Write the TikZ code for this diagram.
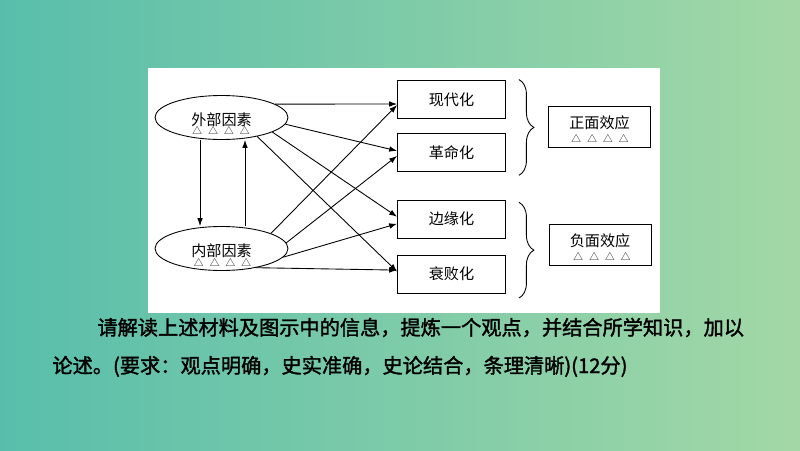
\documentclass[tikz,border=0pt]{standalone}
\usepackage{fontspec}
\setmainfont{Noto Sans CJK SC}
\newfontfamily\notefont[FakeBold=1.6]{Noto Sans CJK SC}
\usetikzlibrary{arrows.meta,positioning,shapes.geometric,decorations.pathreplacing}
\definecolor{bgleft}{RGB}{88,190,171}
\definecolor{bgright}{RGB}{163,216,166}
\newcommand{\tripoints}{△\hspace{3.5pt}△\hspace{3.5pt}△\hspace{3.5pt}△}
\tikzset{
  factor/.style={ellipse, draw, minimum width=2.66cm, minimum height=0.88cm, inner sep=0pt,
                 text height=8.8pt, text depth=0pt, font=\fontsize{8.6}{10}\selectfont},
  trend/.style={rectangle, draw, minimum width=2.16cm, minimum height=0.76cm, inner sep=0pt,
                font=\fontsize{8.6}{10}\selectfont},
  effect/.style={rectangle, draw, minimum width=2.04cm, minimum height=0.82cm, inner sep=0pt,
                 text height=7.5pt, text depth=5pt, font=\fontsize{8.6}{10}\selectfont},
  tris/.style={font=\fontsize{5.5}{5.5}\selectfont, inner sep=0pt},
  note/.style={font=\notefont\fontsize{11.5}{14}\selectfont, inner sep=0pt, anchor=base west},
  flow/.style={-{Latex[length=4.5pt,width=3.2pt]}},
  group/.style={decorate, decoration={brace, amplitude=0.3cm}},
}

\begin{document}
\begin{tikzpicture}[x=0.02cm, y=-0.02cm, line width=0.5pt]

% Slide background and white panel
\shade[left color=bgleft, right color=bgright] (0,0) rectangle (800,450);
\fill[white] (148,68) rectangle (660,313);

% Factors
\node[factor] (ext) at (221.5,117.5) {外部因素};
\node[factor] (inn) at (221.5,248.5) {内部因素};
\node[tris] (exttri) at (221,131) {\tripoints};
\node[tris] (inntri) at (222.5,263) {\tripoints};

% Trends
\node[trend] (mod) at (451.5,99.5) {现代化};
\node[trend, below=0.28cm of mod] (rev) {革命化};
\node[trend, below=0.56cm of rev] (edge) {边缘化};
\node[trend, below=0.32cm of edge] (decay) {衰败化};

% Effects
\node[effect] (pos) at (599.5,126.5) {正面效应};
\node[effect] (neg) at (600,244.5) {负面效应};
\node[tris] (postri) at (600,138.5) {\tripoints};
\node[tris] (negtri) at (602,256.5) {\tripoints};

% Arrows between factors
\draw[flow] ([xshift=-0.43cm]ext.south) -- ([xshift=-0.43cm]inn.north);
\draw[flow] ([xshift=0.47cm]inn.north) -- ([xshift=0.47cm]ext.south);

% Arrows to trends
\draw[flow] (ext.14) -- ([yshift=-0.09cm]mod.west);
\draw[flow] (ext.-6) -- ([yshift=0.03cm]rev.west);
\draw[flow] (ext.-16) -- ([yshift=0.05cm]edge.west);
\draw[flow] (ext.-28) -- ([yshift=0.05cm]decay.west);
\draw[flow] (inn.17) -- ([yshift=-0.11cm]mod.west);
\draw[flow] (inn.5) -- ([yshift=-0.07cm]rev.west);
\draw[flow] (inn.-8) -- ([yshift=-0.09cm]edge.west);
\draw[flow] (inn.-29) -- ([yshift=0.08cm]decay.west);

% Braces
\draw[group] ([xshift=0.26cm,yshift=0.01cm]mod.north east) -- ([xshift=0.26cm,yshift=-0.07cm]rev.south east);
\draw[group] ([xshift=0.26cm,yshift=-0.05cm]edge.north east) -- ([xshift=0.26cm,yshift=-0.09cm]decay.south east);

% Question text
\node[note] (task1) at (97,335) {请解读上述材料及图示中的信息，提炼一个观点，并结合所学知识，加以};
\node[note] (task2) at (52,373) {论述。(要求：观点明确，史实准确，史论结合，条理清晰)(12分)};

\end{tikzpicture}
\end{document}
